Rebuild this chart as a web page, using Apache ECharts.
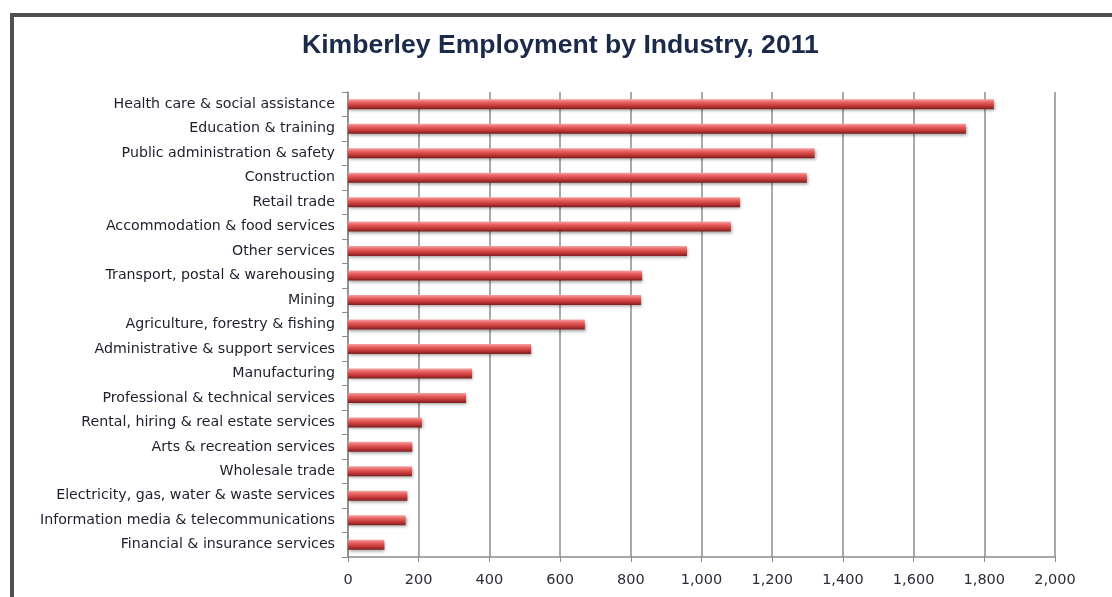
<!DOCTYPE html>
<html>
<head>
<meta charset="utf-8">
<script src="https://cdn.jsdelivr.net/npm/echarts@6/dist/echarts.min.js"></script>
<style>
html,body{margin:0;padding:0;background:#fff;}
#frame{position:absolute;left:10px;top:13px;width:1200px;height:700px;border-left:4px solid #505050;border-top:4px solid #505050;box-sizing:border-box;}
#c{position:absolute;left:0;top:0;width:1112px;height:597px;}
</style>
</head>
<body>
<div id="frame"></div>
<div id="c"></div>
<script>
const titleText = 'Kimberley Employment by Industry, 2011';
const categories = [
  'Health care & social assistance',
  'Education & training',
  'Public administration & safety',
  'Construction',
  'Retail trade',
  'Accommodation & food services',
  'Other services',
  'Transport, postal & warehousing',
  'Mining',
  'Agriculture, forestry & fishing',
  'Administrative & support services',
  'Manufacturing',
  'Professional & technical services',
  'Rental, hiring & real estate services',
  'Arts & recreation services',
  'Wholesale trade',
  'Electricity, gas, water & waste services',
  'Information media & telecommunications',
  'Financial & insurance services'
];
const values = [1827, 1748, 1320, 1298, 1109, 1083, 959, 832, 829, 670, 518, 351, 334, 209, 182, 181, 168, 163, 103];
const xTicks = [0, 200, 400, 600, 800, 1000, 1200, 1400, 1600, 1800, 2000];

const chart = echarts.init(document.getElementById('c'));
chart.setOption({
  animation: false,
  title: {
    text: titleText, left: 297, top: 27,
    textStyle: {fontFamily: 'Liberation Sans, Arial', fontWeight: 'bold', fontSize: 26.6, color: '#1b2a4a'}
  },
  grid: {left: 348, right: 57, top: 92, bottom: 40},
  xAxis: {
    type: 'value', min: 0, max: 2000, interval: 200,
    axisLine: {show: true, lineStyle: {color: '#8c8c8c', width: 1.5}},
    axisTick: {show: true, length: 5, lineStyle: {color: '#8c8c8c'}},
    splitLine: {show: true, lineStyle: {color: '#8c8c8c', width: 1.5}},
    axisLabel: {
      margin: 16, fontFamily: 'DejaVu Sans', fontSize: 14.5, color: '#2b2b3b',
      formatter: v => v.toLocaleString('en-US')
    }
  },
  yAxis: {
    type: 'category', data: categories, inverse: true,
    axisLine: {show: true, lineStyle: {color: '#8c8c8c', width: 1.5}},
    axisTick: {show: true, length: 6, lineStyle: {color: '#8c8c8c'}},
    axisLabel: {margin: 13, fontFamily: 'DejaVu Sans', fontSize: 14.2, color: '#1e1e2e'}
  },
  series: [{
    type: 'bar', data: values, barWidth: 10,
    itemStyle: {
      color: new echarts.graphic.LinearGradient(0, 0, 0, 1, [
        {offset: 0, color: '#f4a4a4'},
        {offset: 0.3, color: '#ea6262'},
        {offset: 0.65, color: '#c83a3a'},
        {offset: 1, color: '#7a1e1e'}
      ]),
      shadowColor: 'rgba(0,0,0,0.35)', shadowBlur: 3, shadowOffsetX: 1, shadowOffsetY: 2
    }
  }]
});
</script>
</body>
</html>
